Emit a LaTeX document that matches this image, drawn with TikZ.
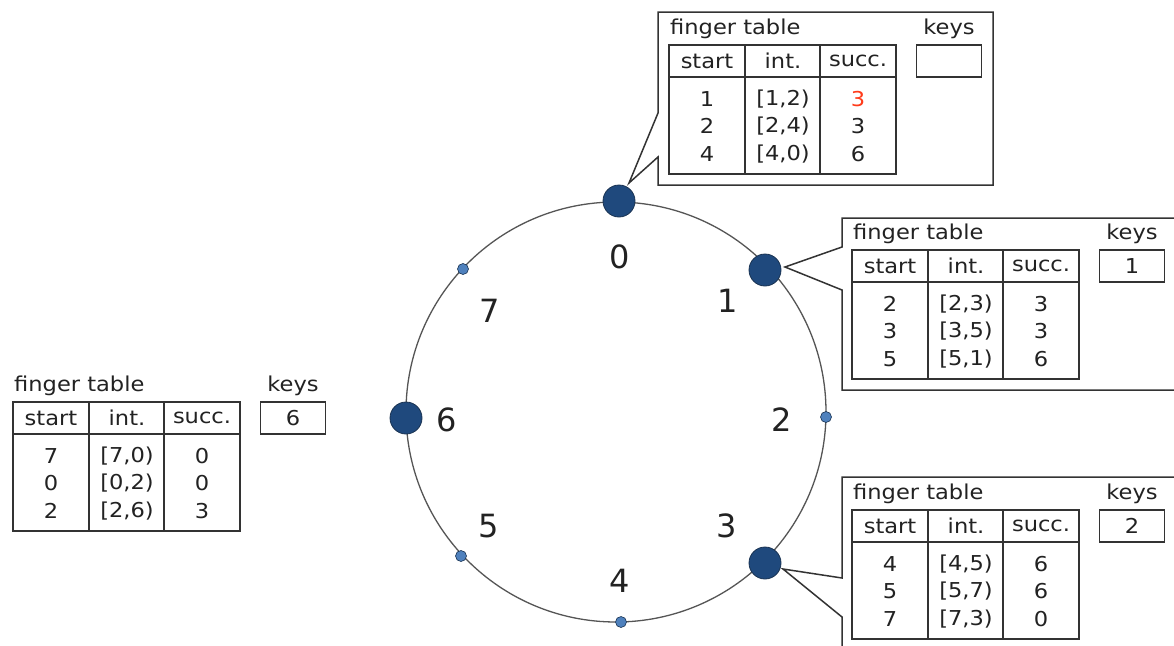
\documentclass[tikz,border=0pt]{standalone}
\usepackage{fontspec}
\setmainfont{DejaVu Sans}
\newfontfamily\tabfont[FakeStretch=1.1]{DejaVu Sans}
\definecolor{bignode}{HTML}{1F497D}
\definecolor{smallnode}{HTML}{4F81BD}
\definecolor{nodeline}{HTML}{1A3352}
\definecolor{ringcol}{HTML}{555555}
\definecolor{tline}{HTML}{333333}
\definecolor{txt}{HTML}{222222}
\definecolor{hotred}{HTML}{FF3B1A}
\newcommand\fingertab[8]{% name, x, y, start, int, succ, key, first-sep width
  \begin{scope}[shift={(#2,#3)}]
    \draw[tabline] (0,0) rectangle (227,129);
    \draw[tabline] (0,32) -- (227,32);
    \draw[tabline, line width=#8] (76,0) -- (76,129);
    \draw[tabline] (151,0) -- (151,129);
    \node[cell, anchor=west] (#1-title) at (1,-16) {finger table};
    \node[cell] (#1-hs) at (38,16) {start};
    \node[cell] (#1-hi) at (114,16) {int.};
    \node[cell] (#1-hc) at (189,16) {succ.};
    \node[cell] (#1-s) at (38,81.5) {#4};
    \node[cell] (#1-i) at (114,81.5) {#5};
    \node[cell] (#1-c) at (189,81.5) {#6};
    \node[keybox] (#1-kb) at (280,16) {};
    \node[cell] (#1-k) at (280,16) {#7};
    \node[cell] (#1-kt) at (280,-16) {keys};
  \end{scope}}
\begin{document}
\begin{tikzpicture}[x=1pt,y=-1pt,
  bigpeer/.style={circle, draw=nodeline, fill=bignode, minimum size=32pt, inner sep=0pt, line width=0.8pt},
  smallpeer/.style={circle, draw=nodeline, fill=smallnode, minimum size=11pt, inner sep=0pt, line width=0.6pt},
  ringlabel/.style={font=\fontsize{32}{36}\selectfont, text=txt, inner sep=0pt},
  tabline/.style={draw=tline, line width=1.4pt},
  callout/.style={draw=tline, line width=1.5pt, fill=white, line join=miter},
  cell/.style={font=\tabfont\fontsize{20.5}{27.5}\selectfont, text=txt, align=center, inner sep=0pt},
  keybox/.style={draw=tline, line width=1.4pt, minimum width=65pt, minimum height=32pt, inner sep=0pt}]
\useasboundingbox (0,0) rectangle (1174,645);
\fill[white] (0,0) rectangle (1174,645);
% ring
\draw[ringcol, line width=1.3pt] (616,412) circle[radius=210];
% peers
\node[bigpeer]   (n0) at (619,201) {};
\node[bigpeer]   (n1) at (765,270) {};
\node[smallpeer] (n2) at (826,417) {};
\node[bigpeer]   (n3) at (765,563) {};
\node[smallpeer] (n4) at (621,622) {};
\node[smallpeer] (n5) at (461,556) {};
\node[bigpeer]   (n6) at (406,418) {};
\node[smallpeer] (n7) at (463,269) {};
% ring labels
\node[ringlabel] (l0) at (620,257) {0};
\node[ringlabel] (l1) at (728,301) {1};
\node[ringlabel] (l2) at (782,420) {2};
\node[ringlabel] (l3) at (727,526) {3};
\node[ringlabel] (l4) at (620,581) {4};
\node[ringlabel] (l5) at (489,526) {5};
\node[ringlabel] (l6) at (447,420) {6};
\node[ringlabel] (l7) at (490,311) {7};
% callout tips
\coordinate (t0) at (629,183);
\coordinate (t1) at (785,267);
\coordinate (t3) at (783,569);
% callouts
\draw[callout] (658,12) -- (993,12) -- (993,185) -- (658,185) -- (658,157) -- (t0) -- (658,113) -- cycle;
\draw[callout] (842,218) -- (1190,218) -- (1190,390) -- (842,390) -- (842,290) -- (t1) -- (842,247) -- cycle;
\draw[callout] (842,477) -- (1190,477) -- (1190,660) -- (842,660) -- (842,617) -- (t3) -- (842,578) -- cycle;
% tables
\fingertab{ft0}{669}{45}{1\\2\\4}{{[1,2)}\\{[2,4)}\\{[4,0)}}{\textcolor{hotred}{3}\\3\\6}{}{1.4pt}
\fingertab{ft1}{852}{250}{2\\3\\5}{{[2,3)}\\{[3,5)}\\{[5,1)}}{3\\3\\6}{1}{2.4pt}
\fingertab{ft3}{852}{510}{4\\5\\7}{{[4,5)}\\{[5,7)}\\{[7,3)}}{6\\6\\0}{2}{2.4pt}
\fingertab{ft6}{13}{402}{7\\0\\2}{{[7,0)}\\{[0,2)}\\{[2,6)}}{0\\0\\3}{6}{1.4pt}
\end{tikzpicture}
\end{document}
